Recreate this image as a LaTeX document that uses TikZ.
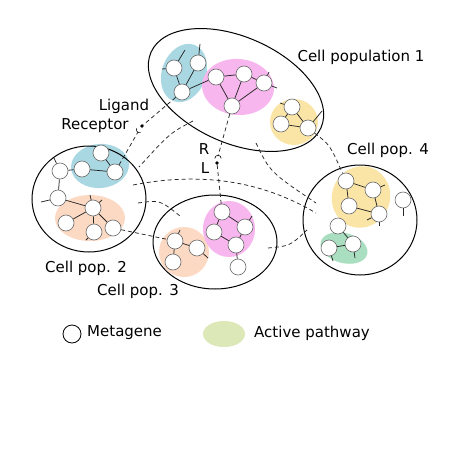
\documentclass[tikz,border=0pt]{standalone}
\usepackage{fontspec}
\setmainfont{DejaVu Sans}
\definecolor{pblue}{HTML}{A9D8E3}
\definecolor{ppink}{HTML}{F8B6EE}
\definecolor{pyellow}{HTML}{FBE5A6}
\definecolor{porange}{HTML}{FCD9C3}
\definecolor{pgreen}{HTML}{A9DFC0}
\definecolor{lgreen}{HTML}{DDE8B8}
\definecolor{genedraw}{HTML}{6A6A6A}
\begin{document}
\begin{tikzpicture}[x=1pt,y=-1pt,
  gene/.style={circle, draw=genedraw, fill=white, minimum size=16pt, inner sep=0pt, line width=0.6pt},
  link/.style={draw=black!85, line width=0.75pt},
  dlink/.style={draw=black!85, dash pattern=on 4pt off 3pt, line width=0.75pt},
  popline/.style={draw=black, line width=1pt},
  lbl/.style={inner sep=0pt, font=\fontsize{15}{18}\selectfont},
  lig/.style={circle, fill=black, inner sep=0pt, minimum size=3.6pt}
]
\useasboundingbox (0,0) rectangle (460,460);
\fill[white] (0,0) rectangle (460,460);

% pathways
\fill[pblue, rotate around={-20:(184,73)}] (184,73) ellipse [x radius=22pt, y radius=30pt];
\fill[ppink, rotate around={-5:(238,87)}] (238,87) ellipse [x radius=36pt, y radius=28pt];
\fill[pyellow] (294,122) ellipse [x radius=24pt, y radius=23pt];
\fill[pblue, rotate around={5:(100,166)}] (100,166) ellipse [x radius=29pt, y radius=22pt];
\fill[porange] (90,218) ellipse [x radius=35pt, y radius=23pt];
\fill[porange] (184,252) ellipse [x radius=25pt, y radius=25pt];
\fill[ppink] (229,229) ellipse [x radius=26pt, y radius=28pt];
\fill[pyellow, rotate around={-20:(361,197)}] (361,197) ellipse [x radius=29pt, y radius=31pt];
\fill[pgreen, rotate around={-15:(344,248)}] (344,248) ellipse [x radius=24pt, y radius=15pt];

% populations
\draw[popline, rotate around={-24:(236,90)}] (236,90) ellipse [x radius=93pt, y radius=53pt];
\draw[popline] (89,199) ellipse [x radius=57pt, y radius=53pt];
\draw[popline] (215,242) ellipse [x radius=62pt, y radius=47pt];
\draw[popline] (360,220) ellipse [x radius=57pt, y radius=55pt];

% genes pop 1
\node[gene] (a1) at (174,68) {};
\node[gene] (a2) at (198,63) {};
\node[gene] (a3) at (182,92) {};
\node[gene] (b1) at (216,77) {};
\node[gene] (b2) at (244,74) {};
\node[gene] (b3) at (264,83) {};
\node[gene] (b4) at (232,106) {};
\node[gene] (c1) at (292,107) {};
\node[gene] (c2) at (281,124) {};
\node[gene] (c3) at (308,128) {};
% pop 2
\node[gene] (d1) at (101,153) {};
\node[gene] (d2) at (82,169) {};
\node[gene] (d3) at (115,172) {};
\node[gene] (e1) at (60,171) {};
\node[gene] (e2) at (58,198) {};
\node[gene] (f1) at (93,208) {};
\node[gene] (f2) at (66,223) {};
\node[gene] (f3) at (94,232) {};
\node[gene] (f4) at (113,228) {};
% pop 3
\node[gene] (g1) at (222,212) {};
\node[gene] (g2) at (245,227) {};
\node[gene] (g3) at (214,232) {};
\node[gene] (g4) at (236,245) {};
\node[gene] (g5) at (238,267) {};
\node[gene] (h1) at (175,241) {};
\node[gene] (h2) at (197,248) {};
\node[gene] (h3) at (173,262) {};
% pop 4
\node[gene] (k1) at (346,181) {};
\node[gene] (k2) at (373,190) {};
\node[gene] (k3) at (349,206) {};
\node[gene] (k4) at (379,214) {};
\node[gene] (k5) at (403,200) {};
\node[gene] (m0) at (338,226) {};
\node[gene] (m1) at (329,248) {};
\node[gene] (m2) at (353,244) {};

% stub ends
\coordinate (sa1) at (162,69);
\coordinate (sa1b) at (185,50);
\coordinate (sa2) at (200,44);
\coordinate (sb3a) at (269,72);
\coordinate (sb3b) at (277,88);
\coordinate (sc1) at (280,103);
\coordinate (sc3) at (322,111);
\coordinate (se1) at (54,158);
\coordinate (se2) at (41,202);
\coordinate (sf1a) at (90,195);
\coordinate (sf1b) at (102,200);
\coordinate (sf3) at (86,240);
\coordinate (sg2) at (252,216);
\coordinate (sh1) at (180,230);
\coordinate (sh2) at (208,258);
\coordinate (sk2) at (385,185);
\coordinate (sk4a) at (379,226);
\coordinate (sk4b) at (367,220);
\coordinate (sk5) at (403,216);
\coordinate (sm1) at (333,261);
\coordinate (sm2) at (355,258);

% links pop 1
\draw[link] (a1) -- (a3);
\draw[link] (a2) -- (a3);
\draw[link] (a1) -- (sa1);
\draw[link] (a1) -- (sa1b);
\draw[link] (a2) -- (sa2);
\draw[link] (a3) -- (b1);
\draw[link] (b1) -- (b2);
\draw[link] (b2) -- (b3);
\draw[link] (b1) -- (b4);
\draw[link] (b2) -- (b4);
\draw[link] (b3) -- (b4);
\draw[link] (b3) -- (sb3a);
\draw[link] (b3) -- (sb3b);
\draw[link] (c1) -- (c2);
\draw[link] (c1) -- (c3);
\draw[link] (c2) -- (c3);
\draw[link] (c1) -- (sc1);
\draw[link] (c3) -- (sc3);
% pop 2
\draw[link] (e1) -- (d2);
\draw[link] (d2) -- (d3);
\draw[link] (d1) -- (d3);
\draw[link] (e1) -- (e2);
\draw[link] (e1) -- (se1);
\draw[link] (e2) -- (se2);
\draw[link] (e2) -- (f1);
\draw[link] (f1) -- (f2);
\draw[link] (f1) -- (f3);
\draw[link] (f1) -- (f4);
\draw[link] (f1) -- (sf1a);
\draw[link] (f1) -- (sf1b);
\draw[link] (f3) -- (sf3);
% pop 3
\draw[link] (g1) -- (g2);
\draw[link] (g1) -- (g3);
\draw[link] (g3) -- (g4);
\draw[link] (g2) -- (g4);
\draw[link] (g4) -- (g5);
\draw[link] (g2) -- (sg2);
\draw[link] (h1) -- (h3);
\draw[link] (h1) -- (h2);
\draw[link] (h1) -- (sh1);
\draw[link] (h2) -- (sh2);
% pop 4
\draw[link] (k1) -- (k3);
\draw[link] (k1) -- (k2);
\draw[link] (k3) -- (k4);
\draw[link] (k2) -- (k4);
\draw[link] (k2) -- (sk2);
\draw[link] (k4) -- (sk4a);
\draw[link] (k4) -- (sk4b);
\draw[link] (k5) -- (sk5);
\draw[link] (m0) -- (m2);
\draw[link] (m1) -- (m2);
\draw[link] (m1) -- (sm1);
\draw[link] (m2) -- (sm2);

% ligand / receptor
\node[lig] (lg1) at (142,126) {};
\coordinate (rc1) at (138,132);
\draw[line width=0.6pt] (136.5,128.5) arc[start angle=160, end angle=290, radius=3.2pt];
\node[lig] (lg2) at (217,163) {};
\coordinate (rc2) at (218,156);
\draw[line width=0.6pt] (214.8,158.5) arc[start angle=180, end angle=0, radius=3.2pt];

\draw[dlink] (a3) -- (lg1);
\draw[dlink] (d3) -- (rc1);
\draw[dlink] (b4) -- (rc2);
\draw[dlink] (lg2) -- (g1);
\draw[dlink] (f4) -- (h1);
\draw[dlink] (c3) .. controls (330,145) .. (k1);

% population-level dashed curves
\coordinate (p1a) at (193,121);
\coordinate (p1b) at (139,167);
\draw[dlink] (p1a) .. controls (170,133) .. (p1b);
\coordinate (p2a) at (133,185);
\coordinate (p2b) at (316,213);
\draw[dlink] (p2a) .. controls (200,172) and (260,180) .. (p2b);
\coordinate (p3a) at (256,143);
\coordinate (p3b) at (316,203);
\draw[dlink] (p3a) .. controls (270,172) .. (p3b);
\coordinate (p4a) at (138,203);
\coordinate (p4b) at (180,216);
\draw[dlink] (p4a) .. controls (160,200) .. (p4b);
\coordinate (p5a) at (268,248);
\coordinate (p5b) at (307,230);
\draw[dlink] (p5a) .. controls (290,246) .. (p5b);

% labels
\node[lbl] (t1) at (361,57) {Cell population 1};
\node[lbl] (t4) at (388,150) {Cell pop. 4};
\node[lbl] (t2) at (86,268) {Cell pop. 2};
\node[lbl] (t3) at (138,291) {Cell pop. 3};
\node[lbl] (tl) at (124,106) {Ligand};
\node[lbl] (tr) at (95,126) {Receptor};
\node[lbl] (tR) at (204,149) {R};
\node[lbl] (tL) at (205,168) {L};

% legend
\node[circle, draw=black, line width=0.8pt, minimum size=18pt, inner sep=0pt] (lgc) at (72,334) {};
\node[lbl, anchor=west] (lgt) at (87,333) {Metagene};
\fill[lgreen] (224,334) ellipse [x radius=21pt, y radius=13pt];
\node[lbl, anchor=west] (lgp) at (254,333) {Active pathway};
\end{tikzpicture}
\end{document}
